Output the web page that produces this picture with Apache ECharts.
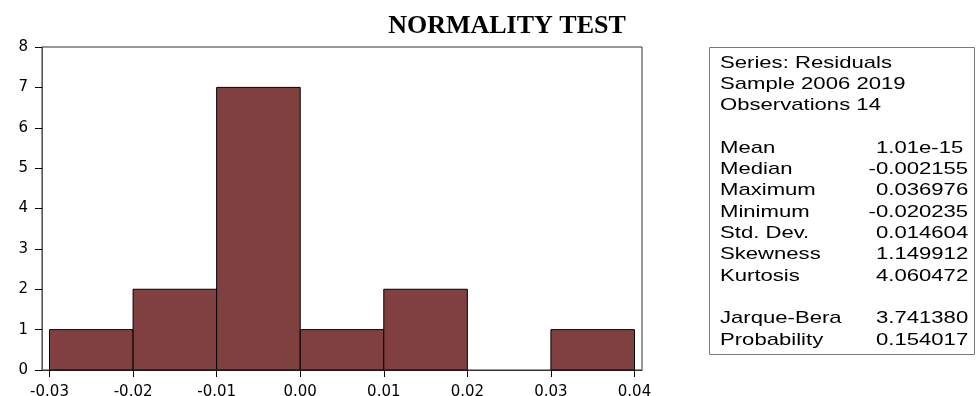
<!DOCTYPE html>
<html>
<head>
<meta charset="utf-8">
<script src="https://cdn.jsdelivr.net/npm/echarts@6/dist/echarts.min.js"></script>
<style>
  html, body { margin: 0; padding: 0; background: #fff; }
</style>
</head>
<body>
<div id="myChart" style="width: 977px; height: 396px;"></div>
<script>
  // histogram bins (lower edge, upper edge) and frequencies
  var binStart = [-0.03, -0.02, -0.01, 0.00, 0.01, 0.02, 0.03];
  var binEnd = [-0.02, -0.01, 0.00, 0.01, 0.02, 0.03, 0.04];
  var counts = [1, 2, 7, 1, 2, 0, 1];
  var xTicks = [-0.03, -0.02, -0.01, 0.00, 0.01, 0.02, 0.03, 0.04];

  // descriptive statistics shown in the box
  var statLabels = ['Series: Residuals', 'Sample 2006 2019', 'Observations 14', '',
    'Mean', 'Median', 'Maximum', 'Minimum', 'Std. Dev.', 'Skewness', 'Kurtosis', '',
    'Jarque-Bera', 'Probability'];
  var statValues = ['', '', '', '',
    '1.01e-15', '-0.002155', '0.036976', '-0.020235', '0.014604', '1.149912', '4.060472', '',
    '3.741380', '0.154017'];

  var bars = [];
  for (var i = 0; i < counts.length; i++) {
    if (counts[i] > 0) bars.push([binStart[i], binEnd[i], counts[i]]);
  }

  // the original export is stretched sideways, so the box text is too
  var stretch = 1.3;
  var statFont = '17px "Liberation Sans", Arial';
  var graphics = [{
    type: 'rect',
    shape: { x: 709.5, y: 47.5, width: 265, height: 307 },
    style: { fill: '#fff', stroke: '#7a7a7a', lineWidth: 1 }
  }];
  for (var k = 0; k < statLabels.length; k++) {
    var yy = 63 + k * 21.3;
    if (statLabels[k]) {
      graphics.push({
        type: 'text', x: 720, y: yy, scaleX: stretch,
        style: { text: statLabels[k], fill: '#000', font: statFont, textVerticalAlign: 'middle' }
      });
    }
    if (statValues[k]) {
      // values line up on the first digit, a minus sign hangs to the left
      var vx = statValues[k].charAt(0) === '-' ? 876 - 7.4 : 876;
      graphics.push({
        type: 'text', x: vx, y: yy, scaleX: stretch,
        style: { text: statValues[k], fill: '#000', font: statFont, textVerticalAlign: 'middle' }
      });
    }
  }

  var myChart = echarts.init(document.getElementById('myChart'));
  myChart.setOption({
    animation: false,
    title: {
      text: 'NORMALITY TEST',
      left: 502,
      textAlign: 'center',
      top: 8,
      textStyle: { fontFamily: '"Liberation Serif", "Times New Roman", serif', fontWeight: 'bold', fontSize: 26, color: '#000' }
    },
    grid: {
      left: 42, top: 47, width: 600, height: 323,
      outerBoundsMode: 'none',
      containLabel: false,
      show: true, borderColor: '#333', borderWidth: 1, backgroundColor: '#fff'
    },
    xAxis: {
      type: 'value',
      min: -0.0309,
      max: 0.0409,
      splitLine: { show: false },
      axisLine: { show: true, lineStyle: { color: '#333' } },
      axisTick: { show: true, length: 7, customValues: xTicks, lineStyle: { color: '#000' } },
      axisLabel: {
        customValues: xTicks,
        margin: 15,
        color: '#000',
        fontFamily: '"DejaVu Sans", Arial',
        fontSize: 15,
        formatter: function (v) { return v.toFixed(2); }
      }
    },
    yAxis: {
      type: 'value',
      min: 0,
      max: 8,
      interval: 1,
      splitLine: { show: false },
      axisLine: { show: true, onZero: false, lineStyle: { color: '#555' } },
      axisTick: { show: true, length: 7, lineStyle: { color: '#000' } },
      axisLabel: { color: '#000', fontFamily: '"DejaVu Sans", Arial', fontSize: 15, margin: 14 }
    },
    series: [{
      type: 'custom',
      data: bars,
      renderItem: function (params, api) {
        var p0 = api.coord([api.value(0), api.value(2)]);
        var p1 = api.coord([api.value(1), 0]);
        return {
          type: 'rect',
          shape: { x: p0[0], y: p0[1], width: p1[0] - p0[0], height: p1[1] - p0[1] },
          style: { fill: '#804040', stroke: '#000', lineWidth: 1 }
        };
      }
    }],
    graphic: graphics
  });
</script>
</body>
</html>
